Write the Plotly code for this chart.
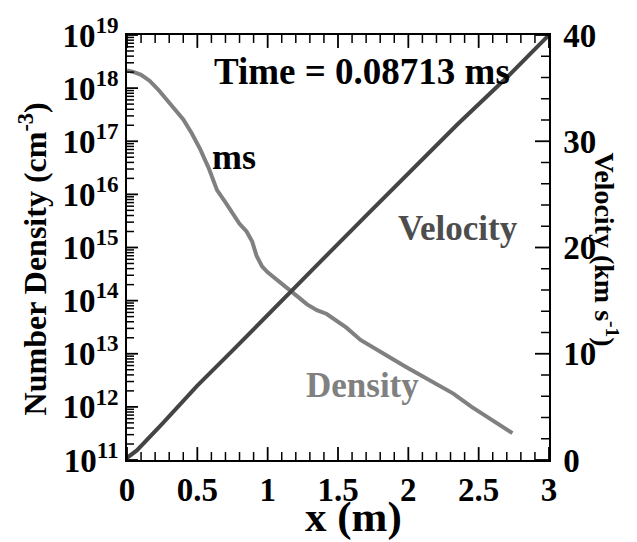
import plotly.graph_objects as go

# ---- data ----
density_x = [0.00, 0.05, 0.10, 0.16, 0.22, 0.28, 0.34, 0.40, 0.46, 0.52, 0.58, 0.64,
             0.70, 0.75, 0.80, 0.85, 0.89, 0.92, 0.96, 1.00, 1.04, 1.10, 1.16, 1.22,
             1.28, 1.35, 1.42, 1.50, 1.56, 1.66, 1.74, 1.82, 1.90, 1.99, 2.10, 2.20,
             2.32, 2.45, 2.60, 2.74]
density_y = [2.14e18, 2.0e18, 1.78e18, 1.38e18, 9.5e17, 6.2e17, 4.0e17, 2.57e17, 1.41e17,
             7.1e16, 3.16e16, 1.2e16, 7.1e15, 4.5e15, 2.8e15, 2.0e15, 1.29e15, 7.1e14,
             4.4e14, 3.4e14, 2.8e14, 2.14e14, 1.62e14, 1.15e14, 8.5e13, 6.6e13, 5.6e13,
             4.0e13, 3.1e13, 1.82e13, 1.38e13, 1.05e13, 7.6e12, 5.5e12, 3.8e12, 2.7e12,
             1.78e12, 1.0e12, 5.6e11, 3.2e11]

velocity_x = [0.00, 0.07, 0.25, 0.50, 0.75, 1.00, 1.16, 1.37, 1.70, 2.00, 2.35, 2.70, 3.00]
velocity_y = [0.2, 0.9, 3.4, 7.0, 10.3, 13.6, 15.8, 18.6, 23.0, 27.0, 31.6, 36.0, 40.0]

x_tickvals = [0, 0.5, 1, 1.5, 2, 2.5, 3]
x_ticktext = ["0", "0.5", "1", "1.5", "2", "2.5", "3"]
y_exponents = [11, 12, 13, 14, 15, 16, 17, 18, 19]
y_tickvals = [10.0 ** e for e in y_exponents]
y_ticktext = ["10<sup>%d</sup>" % e for e in y_exponents]
v_tickvals = [0, 10, 20, 30, 40]
v_ticktext = ["0", "10", "20", "30", "40"]

time_label = "Time = 0.08713 ms"

# ---- styling ----
FONT = "Liberation Serif"
W, H = 637, 542
M = dict(l=127, r=88, t=32, b=82)
PLOT_W = W - M["l"] - M["r"]
PLOT_H = H - M["t"] - M["b"]
X_RANGE = [0, 3]
LOG_RANGE = [11, 19]
V_RANGE = [0, 40]

fig = go.Figure()
fig.add_trace(go.Scatter(x=density_x, y=density_y, mode="lines",
                         line=dict(color="#808080", width=4), yaxis="y",
                         showlegend=False, hoverinfo="skip"))
fig.add_trace(go.Scatter(x=velocity_x, y=velocity_y, mode="lines",
                         line=dict(color="#444444", width=4), yaxis="y2",
                         showlegend=False, hoverinfo="skip"))

tickfont = dict(family=FONT, size=33, color="black", weight="bold")

fig.update_layout(
    width=W, height=H, margin=M,
    paper_bgcolor="white", plot_bgcolor="white",
    xaxis=dict(range=X_RANGE, tickvals=x_tickvals, ticktext=x_ticktext, ticks="",
               showline=True, linecolor="black", linewidth=1.5, mirror=True,
               showgrid=False, zeroline=False, tickfont=tickfont),
    yaxis=dict(type="log", range=LOG_RANGE, tickvals=y_tickvals, ticktext=y_ticktext, ticks="",
               showline=True, linecolor="black", linewidth=1.5,
               showgrid=False, zeroline=False, tickfont=tickfont, ticklabelstandoff=0),
    yaxis2=dict(range=V_RANGE, tickvals=v_tickvals, ticktext=v_ticktext, overlaying="y",
                side="right", ticks="", showline=True, linecolor="black", linewidth=1.5,
                showgrid=False, zeroline=False, tickfont=tickfont, ticklabelstandoff=6),
)

# ---- inward tick marks, drawn as line segments on the axes' own scales ----
def px_to_x(px):
    return px * (X_RANGE[1] - X_RANGE[0]) / PLOT_W

def px_to_v(px):
    return px * (V_RANGE[1] - V_RANGE[0]) / PLOT_H

def add_ticks(xs, ys, yaxis, width):
    fig.add_trace(go.Scatter(x=xs, y=ys, mode="lines", yaxis=yaxis,
                             line=dict(color="black", width=width),
                             showlegend=False, hoverinfo="skip"))

# bottom and top ticks (vertical segments, measured on the linear velocity scale)
for major in (True, False):
    xs, ys = [], []
    length = px_to_v(13 if major else 8)
    for i in range(31):
        v = X_RANGE[0] + i * 0.1
        is_major = any(abs(v - t) < 1e-9 for t in x_tickvals)
        if is_major != major:
            continue
        xs += [v, v, None, v, v, None]
        ys += [V_RANGE[0], V_RANGE[0] + length, None, V_RANGE[1], V_RANGE[1] - length, None]
    add_ticks(xs, ys, "y2", 1.8 if major else 1.5)

# left ticks on the log axis
for major in (True, False):
    xs, ys = [], []
    length = px_to_x(11 if major else 7)
    for e in y_exponents:
        vals = [10.0 ** e] if major else ([m * 10.0 ** e for m in range(2, 10)] if e < y_exponents[-1] else [])
        for val in vals:
            xs += [X_RANGE[0], X_RANGE[0] + length, None]
            ys += [val, val, None]
    add_ticks(xs, ys, "y", 1.8 if major else 1.5)

# right ticks on the velocity axis
for major in (True, False):
    xs, ys = [], []
    length = px_to_x(14 if major else 8)
    for i in range(21):
        v = V_RANGE[0] + i * 2
        if (v in v_tickvals) != major:
            continue
        xs += [X_RANGE[1], X_RANGE[1] - length, None]
        ys += [v, v, None]
    add_ticks(xs, ys, "y2", 1.8 if major else 1.5)

def ann(text, x, y, size, color="black", angle=0):
    fig.add_annotation(text=text, x=x, y=y, xref="paper", yref="paper",
                       xanchor="center", yanchor="middle", showarrow=False,
                       textangle=angle,
                       font=dict(family=FONT, size=size, color=color, weight="bold"))

ann(time_label, 0.557, 0.915, 37)
ann("ms", 0.2536, 0.712, 36)
ann("Velocity", 0.784, 0.545, 35, "#4d4d4d")
ann("Density", 0.557, 0.176, 35, "#808080")
ann("x (m)", 0.536, -0.135, 43)
ann("Number Density (cm<sup>-3</sup>)", -0.2227, 0.472, 32, angle=-90)
ann("Velocity (km s<sup>-1</sup>)", 1.135, 0.4953, 28, angle=90)

fig.write_html("out.html")
